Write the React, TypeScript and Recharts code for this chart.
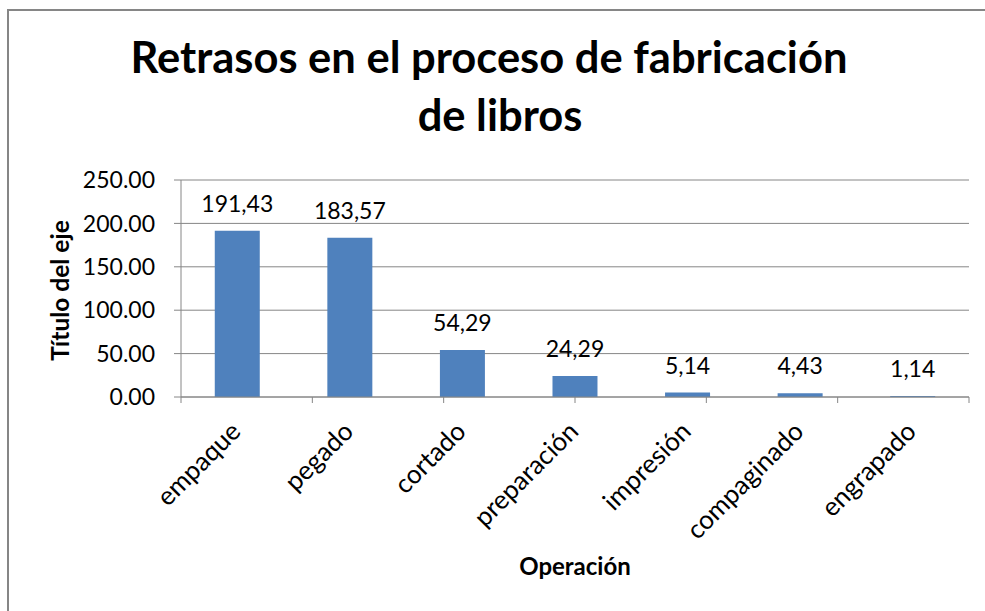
import React from 'react';
import { BarChart, Bar, XAxis, YAxis, CartesianGrid, LabelList } from 'recharts';

const categories = ['empaque', 'pegado', 'cortado', 'preparación', 'impresión', 'compaginado', 'engrapado'];
const delays = [191.43, 183.57, 54.29, 24.29, 5.14, 4.43, 1.14];
const yTicks = [0, 50, 100, 150, 200, 250];
const titleLines = ['Retrasos en el proceso de fabricación', 'de libros'];
const yTitle = 'Título del eje';
const xTitle = 'Operación';

const data = categories.map((name, i) => ({ name, value: delays[i] }));
const edgeTicks = Array.from({ length: categories.length + 1 }, (_, i) => i);

const FONT = 'Lato, "Liberation Sans", sans-serif';
const GRAY = '#868686';
const BLUE = '#4F81BD';

const CatTick = (props: any) => {
  const { x, y, payload } = props;
  return (
    <g transform={`translate(${x + 5},${y + 27})`}>
      <text x={0} y={0} textAnchor="end" transform="rotate(-45)" fontSize={26} fontFamily={FONT} fill="#000">
        {payload.value}
      </text>
    </g>
  );
};

const EmptyTick = () => <g />;

export default function App() {
  return (
    <div style={{ position: 'absolute', left: 0, top: 0, width: 985, height: 611, background: '#fff', overflow: 'hidden' }}>
      <svg width={985} height={611} style={{ position: 'absolute', left: 0, top: 0 }}>
        <line x1={8} y1={9} x2={8} y2={611} stroke={GRAY} strokeWidth={2} />
        <line x1={7} y1={10} x2={985} y2={10} stroke={GRAY} strokeWidth={2} />
        <text x={489} y={73} textAnchor="middle" fontFamily={FONT} fontWeight="bold" fontSize={43.5} fill="#000">
          {titleLines[0]}
        </text>
        <text x={500} y={131} textAnchor="middle" fontFamily={FONT} fontWeight="bold" fontSize={43.5} fill="#000">
          {titleLines[1]}
        </text>
      </svg>
      <div style={{ position: 'absolute', left: 0, top: 0 }}>
        <BarChart
          width={985}
          height={611}
          data={data}
          margin={{ top: 180, right: 16, left: 0, bottom: 0 }}
          barCategoryGap="30%"
        >
          <CartesianGrid vertical={false} stroke={GRAY} strokeWidth={1} />
          <XAxis
            xAxisId="b_cat"
            dataKey="name"
            height={213}
            axisLine={false}
            tickLine={false}
            interval={0}
            tick={<CatTick />}
            label={{
              content: (p: any) => {
                const vb = p.viewBox || {};
                return (
                  <text
                    x={vb.x + vb.width / 2}
                    y={vb.y + vb.height - 36}
                    textAnchor="middle"
                    fontFamily={FONT}
                    fontWeight="bold"
                    fontSize={24}
                    fill="#000"
                  >
                    {xTitle}
                  </text>
                );
              },
            }}
          />
          <XAxis
            xAxisId="a_edges"
            type="number"
            domain={[0, categories.length]}
            ticks={edgeTicks}
            allowDataOverflow
            interval={0}
            height={1}
            tick={<EmptyTick />}
            tickSize={6}
            axisLine={{ stroke: GRAY }}
            tickLine={{ stroke: GRAY }}
          />
          <YAxis
            width={181}
            domain={[0, 250]}
            ticks={yTicks}
            tickFormatter={(v: number) => v.toFixed(2)}
            tick={{ fontSize: 23, fontFamily: FONT, fill: '#000' }}
            tickSize={7}
            tickMargin={19}
            axisLine={{ stroke: GRAY }}
            tickLine={{ stroke: GRAY }}
            label={{
              content: (p: any) => {
                const vb = p.viewBox || {};
                const cx = 69;
                const cy = vb.y + vb.height / 2 + 2;
                return (
                  <text
                    x={cx}
                    y={cy}
                    textAnchor="middle"
                    transform={`rotate(-90, ${cx}, ${cy})`}
                    fontFamily={FONT}
                    fontWeight="bold"
                    fontSize={24.5}
                    fill="#000"
                  >
                    {yTitle}
                  </text>
                );
              },
            }}
          />
          <Bar dataKey="value" xAxisId="b_cat" fill={BLUE} isAnimationActive={false}>
            <LabelList
              dataKey="value"
              position="top"
              offset={19}
              fontSize={23}
              fontFamily={FONT}
              fill="#000"
              formatter={(v: any) => Number(v).toFixed(2).replace('.', ',')}
            />
          </Bar>
        </BarChart>
      </div>
    </div>
  );
}
